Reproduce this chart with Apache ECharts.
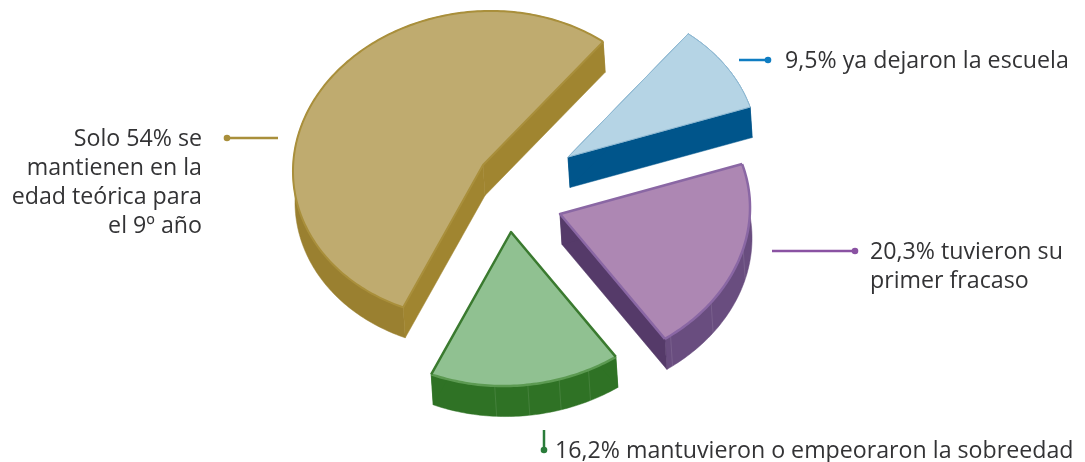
<!DOCTYPE html>
<html lang="es">
<head>
<meta charset="utf-8">
<title>Trayectoria escolar al 9º año</title>
<style>
  html, body { margin: 0; padding: 0; background: #fff; }
  #chart { width: 1085px; height: 462px; }
</style>
<script src="https://cdn.jsdelivr.net/npm/echarts@6/dist/echarts.min.js"></script>
</head>
<body>
<div id="chart"></div>
<script>
// Shares of students, counter-clockwise from the first slice's leading edge
const sliceNames = ['En edad teórica', 'Sobreedad', 'Primer fracaso', 'Dejaron la escuela'];
const sliceShares = [54, 16.2, 20.3, 9.5];
const sliceLabels = [
  ['Solo 54% se', 'mantienen en la', 'edad teórica para', 'el 9º año'],
  ['16,2% mantuvieron o empeoraron la sobreedad'],
  ['20,3% tuvieron su', 'primer fracaso'],
  ['9,5% ya dejaron la escuela']
];

// Projection of the disc: ellipse radii, slant, extrusion and opening angle
const RX = 190, RY = 154, SLANT = -0.02, DEPTH_X = 2, DEPTH_Y = 30.5, START_DEG = 51.7;

// Exploded apex of each slice, in canvas pixels
const apexes = [[483, 165], [511, 232], [560, 214], [568, 157]];

const palettes = [
  { top: '#BFAB6F', edge: '#A98F3B', arc: '#A98F3B', radial: '#A08530', outer: '#9A8030', edgeWidth: 2 },
  { top: '#90C191', edge: '#3A7A2F', arc: '#5C9A52', radial: '#2F7225', outer: '#2F7225', edgeWidth: 2.5 },
  { top: '#AD87B3', edge: '#8A67A4', arc: '#8A67A4', radial: '#553A69', outer: '#694D7F', edgeWidth: 2.5 },
  { top: '#B5D4E5', edge: '#8FB9D3', arc: '#8FB9D3', radial: '#00558B', outer: '#00558B', edgeWidth: 1 }
];

// Seams on the curved wall of each slice, in degrees
const seams = [[], [266, 276, 285.6, 295], [306.5, 323.6, 345.5], []];

// Leader lines: from, to, dot at "to"
const leaders = [
  { from: [278, 138], to: [227, 138], color: '#A98F3B' },
  { from: [544, 430], to: [544, 450], color: '#2A7C3A' },
  { from: [772, 251], to: [855, 251], color: '#8A52A2' },
  { from: [739, 60], to: [768, 60], color: '#0F7DC2' }
];

// Text blocks: anchor, alignment, line pitch
const labelBlocks = [
  { x: 202, y: 139, align: 'right', pitch: 29 },
  { x: 555, y: 451, align: 'left', pitch: 29 },
  { x: 870, y: 252, align: 'left', pitch: 29.5 },
  { x: 785, y: 61, align: 'left', pitch: 29 }
];

const FONT = '23.2px "Open Sans", sans-serif';

function rim(apex, deg, shifted) {
  const t = deg * Math.PI / 180;
  const dx = RX * Math.cos(t), dy = -RY * Math.sin(t);
  return [
    apex[0] + dx + SLANT * dy + (shifted ? DEPTH_X : 0),
    apex[1] + dy + SLANT * dx + (shifted ? DEPTH_Y : 0)
  ];
}
const drop = p => [p[0] + DEPTH_X, p[1] + DEPTH_Y];

function renderSlice(params, api) {
  const i = api.value(0);
  const share = api.value(1);
  const before = sliceShares.slice(0, i).reduce((a, b) => a + b, 0);
  const from = START_DEG + before * 3.6;
  const to = from + share * 3.6;
  const apex = apexes[i];
  const pal = palettes[i];

  const arc = [], arcLow = [];
  const steps = Math.ceil(to - from);
  for (let k = 0; k <= steps; k++) {
    const d = from + (to - from) * k / steps;
    arc.push(rim(apex, d, false));
    arcLow.push(rim(apex, d, true));
  }
  const first = arc[0], last = arc[arc.length - 1];
  const children = [];
  const poly = (points, fill) => children.push({
    type: 'polygon', shape: { points },
    style: { fill, stroke: fill, lineWidth: 0.5 }
  });
  const line = (points, stroke, lineWidth) => children.push({
    type: 'polyline', shape: { points },
    style: { fill: 'none', stroke, lineWidth, lineJoin: 'round' }
  });

  // Extruded walls first, the top face is painted over whatever it hides
  poly(arc.concat(arcLow.slice().reverse()), pal.outer);
  poly([apex, first, drop(first), drop(apex)], pal.radial);
  poly([apex, last, drop(last), drop(apex)], pal.radial);
  seams[i].forEach(d => {
    line([rim(apex, d, false), rim(apex, d, true)], 'rgba(255,255,255,0.1)', 1);
  });

  poly([apex].concat(arc), pal.top);
  line(arc, pal.arc, pal.edgeWidth);
  line([first, apex, last], pal.edge, pal.edgeWidth);

  // Leader line with its dot
  const lead = leaders[i];
  line([lead.from, lead.to], lead.color, 2.5);
  children.push({
    type: 'circle', shape: { cx: lead.to[0], cy: lead.to[1], r: 3.3 },
    style: { fill: lead.color }
  });

  // Label, one text element per line
  const block = labelBlocks[i];
  sliceLabels[i].forEach((text, n) => children.push({
    type: 'text',
    style: {
      text, x: block.x, y: block.y + n * block.pitch,
      align: block.align, verticalAlign: 'middle',
      font: FONT, fill: '#333335'
    }
  }));
  return { type: 'group', children };
}

const chart = echarts.init(document.getElementById('chart'), null, { renderer: 'canvas' });
chart.setOption({
  animation: false,
  backgroundColor: '#ffffff',
  series: [{
    type: 'custom',
    coordinateSystem: 'none',
    silent: true,
    renderItem: renderSlice,
    data: sliceShares.map((share, i) => ({ name: sliceNames[i], value: [i, share] }))
  }]
});
</script>
</body>
</html>
